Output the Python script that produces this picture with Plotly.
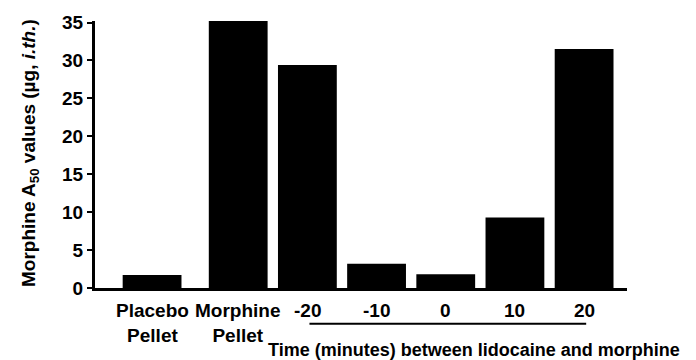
import plotly.graph_objects as go

categories = ["Placebo<br>Pellet", "Morphine<br>Pellet", "-20", "-10", "0", "10", "20"]
values = [1.7, 35.4, 29.4, 3.2, 1.8, 9.3, 31.5]
y_ticks = [0, 5, 10, 15, 20, 25, 30, 35]
x_title = "Time (minutes) between lidocaine and morphine"
y_title = "Morphine A<sub>50</sub> values (µg, <i>i.th.</i>)"

FONT = "Liberation Sans, Arial, sans-serif"
idx = list(range(len(categories)))

fig = go.Figure()
fig.add_trace(go.Bar(x=idx[:1], y=values[:1], width=0.85, offset=-0.425 - 0.245,
                     marker=dict(color="black", line=dict(width=0)), showlegend=False))
fig.add_trace(go.Bar(x=idx[1:], y=values[1:], width=0.85,
                     marker=dict(color="black", line=dict(width=0)), showlegend=False))

L, R, T, B = 95, 69, 19, 72
W, H = 696, 360
plot_h = H - T - B

fig.update_layout(
    width=W, height=H,
    margin=dict(l=L, r=R, t=T, b=B),
    paper_bgcolor="white", plot_bgcolor="white",
    font=dict(family=FONT, color="black", size=18, weight="bold"),
    xaxis=dict(range=[-1.07, 6.62], showticklabels=False, ticks="", showgrid=False,
               zeroline=False, showline=True, linecolor="black", linewidth=3,
               fixedrange=True),
    yaxis=dict(range=[0, 35.2], tickvals=y_ticks, ticks="outside", ticklen=5,
               tickwidth=2, tickcolor="black", showgrid=False, zeroline=False,
               showline=True, linecolor="black", linewidth=3,
               tickfont=dict(size=19, family=FONT, weight="bold")),
)

def py(px):
    return (H - B - px) / plot_h

for i, c in enumerate(categories):
    fig.add_annotation(x=i, y=py(298), xref="x", yref="paper", text=c,
                       showarrow=False, yanchor="top", xanchor="center",
                       xshift=-17 if i == 0 else 0,
                       font=dict(size=19, family=FONT, weight="bold"))

fig.add_shape(type="line", xref="x", yref="paper", x0=2.03, x1=6.03,
              y0=py(324), y1=py(324), line=dict(color="black", width=2))

fig.add_annotation(x=(474 - L) / (W - L - R), y=py(350), xref="paper", yref="paper",
                   text=x_title, showarrow=False, xanchor="center", yanchor="middle",
                   font=dict(size=18, family=FONT, weight="bold"))

fig.add_annotation(x=(30 - L) / (W - L - R), y=py(152), xref="paper", yref="paper",
                   text=y_title, showarrow=False, textangle=-90,
                   xanchor="center", yanchor="middle",
                   font=dict(size=19, family=FONT, weight="bold"))

fig.write_html("out.html", config={"displayModeBar": False},
               post_script="document.body.style.margin='0';")
